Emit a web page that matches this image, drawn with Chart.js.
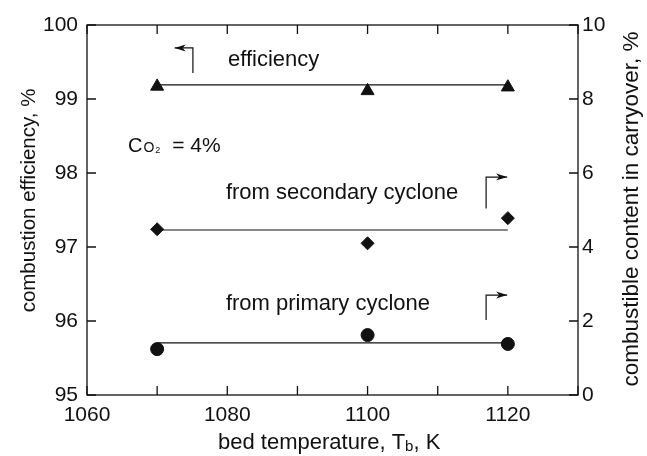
<!DOCTYPE html>
<html>
<head>
  <title>Combustion efficiency vs bed temperature</title>
  <script src="https://cdn.jsdelivr.net/npm/chart.js"></script>
  <style>
    html, body { margin: 0; padding: 0; background: #fff; }
    #wrap { width: 647px; height: 456px; }
  </style>
</head>
<body>
  <div id="wrap"><canvas id="chart"></canvas></div>
  <script>
    // bed temperature, K
    const temps = [1070, 1100, 1120];
    // combustion efficiency, % (left axis)
    const efficiency = [99.17, 99.11, 99.16];
    // combustible content in carryover, % (right axis)
    const fromSecondary = [4.48, 4.10, 4.78];
    const fromPrimary = [1.24, 1.62, 1.38];
    // levels of the drawn straight lines
    const efficiencyFit = 99.19;
    const secondaryFit = 4.46;
    const primaryFit = 1.41;

    const xTickLabels = [1060, 1080, 1100, 1120];

    const FONT = '"Liberation Sans", Arial, Helvetica, sans-serif';
    const INK = '#111';

    function pts(xs, ys) {
      return xs.map((x, i) => ({ x: x, y: ys[i] }));
    }
    function flat(level) {
      return [{ x: temps[0], y: level }, { x: temps[temps.length - 1], y: level }];
    }

    // frame, inward ticks, notes and axis titles
    const decorations = {
      id: 'decorations',
      afterDraw(chart) {
        const ctx = chart.ctx;
        const a = chart.chartArea;
        const sx = chart.scales.x, sy = chart.scales.y, sy2 = chart.scales.y2;
        const T = 9;
        ctx.save();
        ctx.strokeStyle = INK;
        ctx.lineWidth = 1.3;
        ctx.strokeRect(a.left, a.top, a.right - a.left, a.bottom - a.top);

        ctx.beginPath();
        sx.ticks.forEach(t => {
          const px = sx.getPixelForValue(t.value);
          ctx.moveTo(px, a.bottom); ctx.lineTo(px, a.bottom - T);
          ctx.moveTo(px, a.top); ctx.lineTo(px, a.top + T);
        });
        sy.ticks.forEach(t => {
          const py = sy.getPixelForValue(t.value);
          ctx.moveTo(a.left, py); ctx.lineTo(a.left + T, py);
        });
        sy2.ticks.forEach(t => {
          const py = sy2.getPixelForValue(t.value);
          ctx.moveTo(a.right, py); ctx.lineTo(a.right - T, py);
        });
        ctx.stroke();

        // notes
        ctx.fillStyle = INK;
        ctx.textBaseline = 'alphabetic';
        ctx.textAlign = 'left';
        ctx.font = '22px ' + FONT;
        ctx.fillText('efficiency', sx.getPixelForValue(1080.1), sy.getPixelForValue(99.44));
        ctx.fillText('from secondary cyclone', sx.getPixelForValue(1079.8), sy2.getPixelForValue(5.29));
        ctx.fillText('from primary cyclone', sx.getPixelForValue(1079.8), sy2.getPixelForValue(2.30));

        // C with O2 set small
        let cx = sx.getPixelForValue(1065.85);
        const cy = sy.getPixelForValue(98.284);
        ctx.font = '20px ' + FONT;
        ctx.fillText('C', cx, cy);
        cx += ctx.measureText('C').width + 1;
        ctx.font = '14px ' + FONT;
        ctx.fillText('O', cx, cy);
        cx += ctx.measureText('O').width + 1;
        ctx.font = '9px ' + FONT;
        ctx.fillText('2', cx, cy + 1);
        cx += ctx.measureText('2').width;
        ctx.font = '21px ' + FONT;
        ctx.fillText(' = 4%', cx + 6, cy);

        // axis pointers
        function pointer(xv, yFrom, yTo, xTip, scaleY) {
          const x0 = sx.getPixelForValue(xv);
          const y0 = scaleY.getPixelForValue(yFrom);
          const y1 = scaleY.getPixelForValue(yTo);
          const x1 = sx.getPixelForValue(xTip);
          const dir = Math.sign(x1 - x0);
          ctx.lineWidth = 1.2;
          ctx.beginPath();
          ctx.moveTo(x0, y0); ctx.lineTo(x0, y1); ctx.lineTo(x1, y1);
          ctx.stroke();
          ctx.beginPath();
          ctx.moveTo(x1, y1);
          ctx.lineTo(x1 - dir * 11, y1 - 3.5);
          ctx.lineTo(x1 - dir * 8, y1);
          ctx.lineTo(x1 - dir * 11, y1 + 3.5);
          ctx.closePath();
          ctx.fill();
        }
        pointer(1075.1, 99.35, 99.69, 1072.5, sy);
        pointer(1116.9, 5.04, 5.89, 1119.9, sy2);
        pointer(1116.9, 2.03, 2.7, 1119.9, sy2);

        // axis titles, read bottom to top
        ctx.textAlign = 'center';
        ctx.save();
        ctx.font = '20.5px ' + FONT;
        ctx.translate(35, 200.5);
        ctx.rotate(-Math.PI / 2);
        ctx.fillText('combustion efficiency, %', 0, 0);
        ctx.restore();
        ctx.save();
        ctx.font = '22.5px ' + FONT;
        ctx.translate(638, 209);
        ctx.rotate(-Math.PI / 2);
        ctx.fillText('combustible content in carryover, %', 0, 0);
        ctx.restore();

        // bed temperature, T_b, K
        const parts = [['bed temperature, T', 22, 0], ['b', 15, 2], [', K', 22, 0]];
        let bx = 218;
        ctx.textAlign = 'left';
        parts.forEach(p => {
          ctx.font = p[1] + 'px ' + FONT;
          ctx.fillText(p[0], bx, 449 + p[2]);
          bx += ctx.measureText(p[0]).width;
        });
        ctx.restore();
      }
    };

    const marker = { borderColor: INK, backgroundColor: INK, showLine: false, borderWidth: 1 };
    const fitLine = { borderColor: INK, borderWidth: 1.2, showLine: true, pointRadius: 0, pointHoverRadius: 0, fill: false };
    const tickFont = { family: FONT, size: 21 };
    const noGrid = { display: false, drawTicks: false };

    new Chart(document.getElementById('chart'), {
      type: 'scatter',
      data: {
        datasets: [
          Object.assign({ data: flat(efficiencyFit), yAxisID: 'y' }, fitLine),
          Object.assign({ data: flat(secondaryFit), yAxisID: 'y2' }, fitLine),
          Object.assign({ data: flat(primaryFit), yAxisID: 'y2' }, fitLine),
          Object.assign({ label: 'efficiency', data: pts(temps, efficiency), yAxisID: 'y', pointStyle: 'triangle', pointRadius: 7.5 }, marker),
          Object.assign({ label: 'from secondary cyclone', data: pts(temps, fromSecondary), yAxisID: 'y2', pointStyle: 'rectRot', pointRadius: 6.5 }, marker),
          Object.assign({ label: 'from primary cyclone', data: pts(temps, fromPrimary), yAxisID: 'y2', pointStyle: 'circle', pointRadius: 6.5 }, marker)
        ]
      },
      options: {
        responsive: true,
        maintainAspectRatio: false,
        animation: false,
        layout: { padding: { top: 25 } },
        plugins: { legend: { display: false }, tooltip: { enabled: false } },
        scales: {
          x: {
            type: 'linear',
            min: 1060, max: 1130,
            grid: noGrid,
            border: { display: false },
            ticks: {
              stepSize: 10,
              autoSkip: false,
              maxRotation: 0,
              padding: 8,
              color: INK,
              font: tickFont,
              callback: v => xTickLabels.includes(v) ? String(v) : ''
            },
            afterFit: s => { s.height = 61; }
          },
          y: {
            position: 'left',
            min: 95, max: 100,
            grid: noGrid,
            border: { display: false },
            ticks: { stepSize: 1, padding: 9, color: INK, font: tickFont },
            afterFit: s => { s.width = 87; }
          },
          y2: {
            position: 'right',
            min: 0, max: 10,
            grid: noGrid,
            border: { display: false },
            ticks: { stepSize: 2, padding: 4, color: INK, font: tickFont },
            afterFit: s => { s.width = 69; }
          }
        }
      },
      plugins: [decorations]
    });
  </script>
</body>
</html>
